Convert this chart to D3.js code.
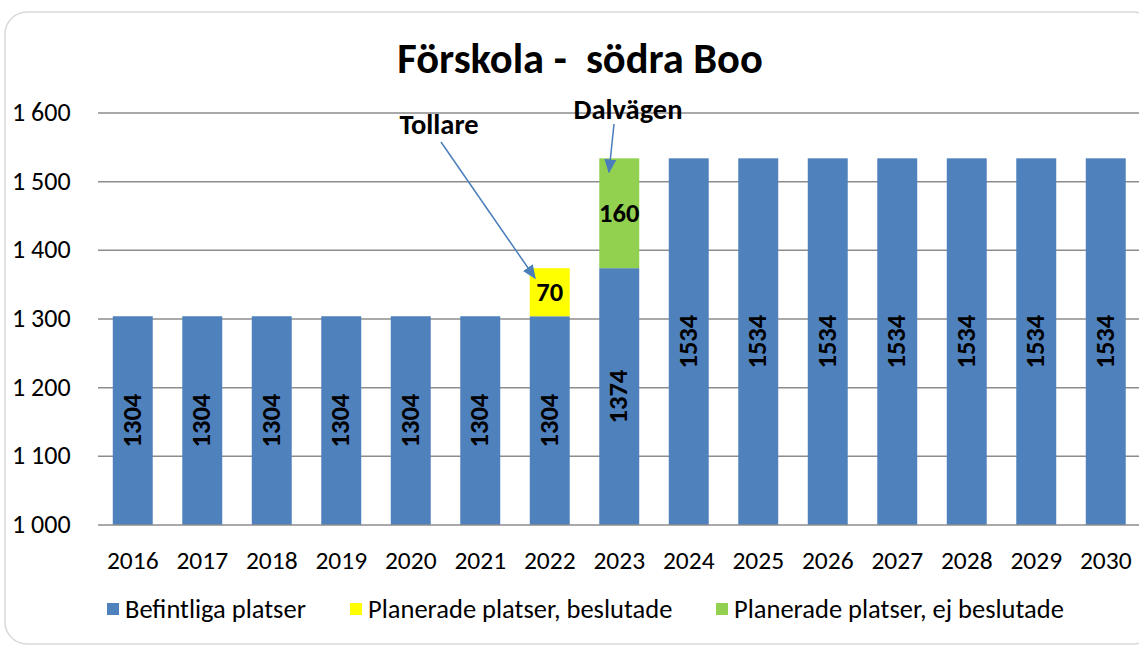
<!DOCTYPE html>
<html>
<head>
<meta charset="utf-8">
<script src="https://cdn.jsdelivr.net/npm/d3@7"></script>
<style>
  body { margin: 0; background: #fff; }
  svg { display: block; font-family: Calibri, Carlito, "Open Sans", sans-serif; }
</style>
</head>
<body>
<svg id="chart" width="1139" height="646"></svg>
<script>
// Data
const years = ['2016', '2017', '2018', '2019', '2020', '2021', '2022', '2023', '2024', '2025', '2026', '2027', '2028', '2029', '2030'];
const befintliga = [1304, 1304, 1304, 1304, 1304, 1304, 1304, 1374, 1534, 1534, 1534, 1534, 1534, 1534, 1534];
const beslutade = [0, 0, 0, 0, 0, 0, 70, 0, 0, 0, 0, 0, 0, 0, 0];
const ejBeslutade = [0, 0, 0, 0, 0, 0, 0, 160, 0, 0, 0, 0, 0, 0, 0];
const yTicks = [1000, 1100, 1200, 1300, 1400, 1500, 1600];
const seriesNames = ['Befintliga platser', 'Planerade platser, beslutade', 'Planerade platser, ej beslutade'];
const seriesColors = ['#4F81BD', '#FFFF00', '#92D050'];

const svg = d3.select('#chart');

// Outer chart frame
svg.append('rect')
    .attr('x', 5).attr('y', 12)
    .attr('width', 1150).attr('height', 632)
    .attr('rx', 22)
    .attr('fill', '#fff')
    .attr('stroke', '#d9d9d9')
    .attr('stroke-width', 1.5);

// Scales
const x = d3.scaleBand()
    .domain(years)
    .range([98, 1140.5])
    .paddingInner(0.425)
    .paddingOuter(0.2125);

const y = d3.scaleLinear()
    .domain([1000, 1600])
    .range([525, 113]);

// Gridlines
svg.append('g')
    .selectAll('line')
    .data(yTicks.slice(1))
    .enter().append('line')
    .attr('x1', 98).attr('x2', 1139)
    .attr('y1', d => y(d)).attr('y2', d => y(d))
    .attr('stroke', '#8c8c8c')
    .attr('stroke-width', 1.5);

// Stacked data
const rows = years.map((yr, i) => ({ year: yr, v: [befintliga[i], beslutade[i], ejBeslutade[i]] }));

const bars = svg.append('g');
rows.forEach(r => {
    let top = 0;
    r.v.forEach((val, s) => {
        if (!val) return;
        const lo = s === 0 ? 1000 : top;
        const hi = s === 0 ? val : top + val;
        bars.append('rect')
            .attr('x', x(r.year))
            .attr('width', x.bandwidth())
            .attr('y', y(hi))
            .attr('height', y(lo) - y(hi))
            .attr('fill', seriesColors[s]);
        top = hi;
    });
});

// Bottom axis line
svg.append('line')
    .attr('x1', 98).attr('x2', 1139)
    .attr('y1', y(1000)).attr('y2', y(1000))
    .attr('stroke', '#8c8c8c')
    .attr('stroke-width', 1.5);

// Value labels
const labels = svg.append('g')
    .attr('font-weight', 'bold')
    .attr('font-size', 26.5)
    .attr('fill', '#000');

rows.forEach(r => {
    const cx = x(r.year) + x.bandwidth() / 2;
    const midB = y((1000 + r.v[0]) / 2);
    labels.append('text')
        .attr('transform', `translate(${cx + 8},${midB}) rotate(-90)`)
        .attr('text-anchor', 'middle')
        .text(r.v[0]);
    let top = r.v[0];
    [1, 2].forEach(s => {
        if (!r.v[s]) return;
        labels.append('text')
            .attr('x', cx)
            .attr('y', y(top + r.v[s] / 2) + 9)
            .attr('text-anchor', 'middle')
            .text(r.v[s]);
        top += r.v[s];
    });
});

// Y axis labels
svg.append('g')
    .selectAll('text')
    .data(yTicks)
    .enter().append('text')
    .attr('x', 12)
    .attr('y', d => y(d) + 8)
    .attr('font-size', 26)
    .attr('fill', '#000')
    .text(d => d3.format(',')(d).replace(',', ' '));

// X axis labels
svg.append('g')
    .selectAll('text')
    .data(years)
    .enter().append('text')
    .attr('x', d => x(d) + x.bandwidth() / 2)
    .attr('y', 569)
    .attr('text-anchor', 'middle')
    .attr('font-size', 25.5)
    .attr('fill', '#000')
    .text(d => d);

// Title
svg.append('text')
    .attr('x', 580)
    .attr('y', 73)
    .attr('text-anchor', 'middle')
    .attr('font-size', 42.5)
    .attr('font-weight', 'bold')
    .attr('fill', '#000')
    .style('white-space', 'pre')
    .text('Förskola -  södra Boo');

// Annotations with arrows
svg.append('defs').append('marker')
    .attr('id', 'arrow')
    .attr('viewBox', '0 0 10 10')
    .attr('refX', 9).attr('refY', 5)
    .attr('markerWidth', 14).attr('markerHeight', 12)
    .attr('markerUnits', 'userSpaceOnUse')
    .attr('orient', 'auto')
    .attr('preserveAspectRatio', 'none')
    .append('path')
    .attr('d', 'M0,0 L10,5 L0,10 Z')
    .attr('fill', '#4A7EBB');

const notes = [
    { text: 'Tollare', tx: 439, ty: 134, x1: 441, y1: 142, x2: 535, y2: 278 },
    { text: 'Dalvägen', tx: 628, ty: 119, x1: 614, y1: 124, x2: 609, y2: 172 }
];
notes.forEach(n => {
    svg.append('text')
        .attr('x', n.tx).attr('y', n.ty)
        .attr('text-anchor', 'middle')
        .attr('font-size', 28.5)
        .attr('font-weight', 'bold')
        .attr('fill', '#000')
        .text(n.text);
    svg.append('line')
        .attr('x1', n.x1).attr('y1', n.y1)
        .attr('x2', n.x2).attr('y2', n.y2)
        .attr('stroke', '#4A7EBB')
        .attr('stroke-width', 1.5)
        .attr('marker-end', 'url(#arrow)');
});

// Legend
const legendPos = [107, 350, 716];
const legend = svg.append('g');
seriesNames.forEach((name, i) => {
    legend.append('rect')
        .attr('x', legendPos[i]).attr('y', 603)
        .attr('width', 12).attr('height', 12)
        .attr('fill', seriesColors[i]);
    legend.append('text')
        .attr('x', legendPos[i] + 18).attr('y', 618)
        .attr('font-size', 26.5)
        .attr('fill', '#000')
        .text(name);
});
</script>
</body>
</html>
